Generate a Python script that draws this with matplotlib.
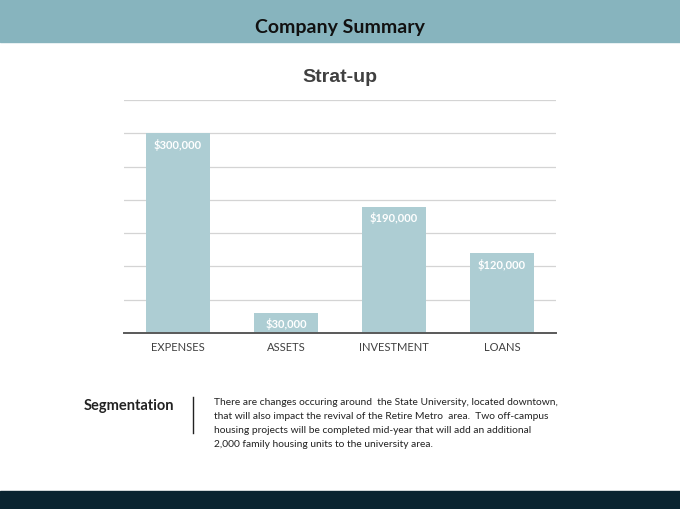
import matplotlib
matplotlib.use("Agg")
import matplotlib.pyplot as plt
from matplotlib.patches import Rectangle
from matplotlib.lines import Line2D

categories = ["EXPENSES", "ASSETS", "INVESTMENT", "LOANS"]
values = [300000, 30000, 190000, 120000]
value_labels = ["$300,000", "$30,000", "$190,000", "$120,000"]

header_title = "Company Summary"
chart_title = "Strat-up"
side_heading = "Segmentation"
paragraph = ("There are changes occuring around  the State University, located downtown,\n"
             "that will also impact the revival of the Retire Metro  area.  Two off-campus\n"
             "housing projects will be completed mid-year that will add an additional\n"
             "2,000 family housing units to the university area.")

W, H = 680, 510
fig = plt.figure(figsize=(W / 100, H / 100), dpi=100)
fig.patch.set_facecolor("white")

def fx(px):
    return px / W

def fy(py):
    return 1 - py / H

# top band and bottom band
fig.patches.append(Rectangle((0, fy(43)), 1, 43 / H, transform=fig.transFigure,
                             color="#87b4be", zorder=0))
fig.patches.append(Rectangle((0, 0), 1, 18 / H, transform=fig.transFigure,
                             color="#0a2430", zorder=0))
fig.text(0.5, fy(27), header_title, ha="center", va="center", fontsize=14,
         fontweight="bold", family="Lato", color="#111111")

ax = fig.add_axes([fx(124), fy(334), fx(556) - fx(124), (334 - 101) / H])
x = range(len(categories))
ax.bar(x, values, width=0.6, color="#adcdd3", zorder=2)
ax.set_xlim(-0.5, 3.5)
ax.set_ylim(0, 350000)
ax.set_yticks(range(0, 350001, 50000))
ax.yaxis.grid(True, color="#d4d4d4", linewidth=0.9, zorder=0)
ax.tick_params(axis="y", left=False, labelleft=False)
ax.tick_params(axis="x", bottom=False, pad=2.5)
ax.set_xticks(list(x))
ax.set_xticklabels(categories, fontsize=8, family="Lato", color="#404040")
for s in ["top", "right", "left"]:
    ax.spines[s].set_visible(False)
ax.spines["bottom"].set_color("#595959")
ax.spines["bottom"].set_linewidth(1.4)
ax.spines["bottom"].set_zorder(3)

for i, (v, lab) in enumerate(zip(values, value_labels)):
    ax.annotate(lab, (i, v), xytext=(0, -7.5), textcoords="offset points",
                ha="center", va="center", fontsize=8, fontweight="bold",
                family="Lato", color="white", zorder=4)

fig.text(fx(340), fy(78), chart_title, ha="center", va="center", fontsize=14,
         fontweight="bold", family="Liberation Sans", color="#404040")

fig.text(fx(84), fy(406), side_heading, ha="left", va="center", fontsize=10.5,
         fontweight="bold", family="Lato", color="#222222")
fig.lines.append(Line2D([fx(193), fx(193)], [fy(398), fy(434)],
                        transform=fig.transFigure, color="#222222", linewidth=1))
fig.text(fx(214), fy(398), paragraph, ha="left", va="top", fontsize=7.4,
         family="Lato", color="#222222", linespacing=1.72)

fig.savefig("out.png", dpi=100)
